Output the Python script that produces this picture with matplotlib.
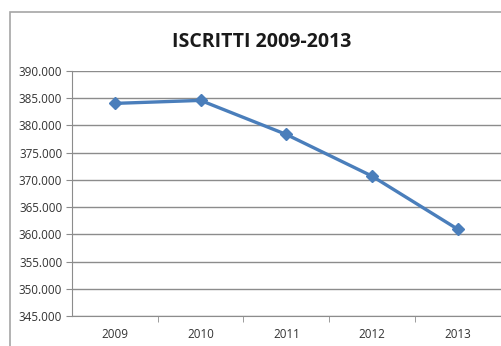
import matplotlib
matplotlib.use("Agg")
import matplotlib.pyplot as plt
from matplotlib.patches import Rectangle
from matplotlib.ticker import FuncFormatter

years = ["2009", "2010", "2011", "2012", "2013"]
iscritti = [384050, 384600, 378350, 370700, 360950]

fig = plt.figure(figsize=(5.01, 3.46), dpi=100)
fig.patch.set_facecolor("white")

# outer chart frame (right/bottom cut off like the original)
fig.patches.append(Rectangle((10 / 501, -0.05), 1.2, 1 - 12 / 346 + 0.05,
                             transform=fig.transFigure, fill=False,
                             edgecolor="#a6a6a6", linewidth=1.2))

ax = fig.add_axes([72 / 501, 1 - 316 / 346, 428.5 / 501, 245 / 346])
x = list(range(len(years)))
ax.plot(x, iscritti, color="#4a7ebb", linewidth=2.4, marker="D",
        markersize=6.5, zorder=3)

ax.set_xlim(-0.5, len(years) - 0.5)
ax.set_ylim(345000, 390000)
ax.set_yticks(range(345000, 390001, 5000))
ax.yaxis.set_major_formatter(FuncFormatter(lambda v, p: f"{int(v):,}".replace(",", ".")))
ax.set_xticks(x)
ax.set_xticklabels(years)
ax.set_xticks([i + 0.5 for i in range(len(years) - 1)], minor=True)
ax.tick_params(axis="x", which="major", length=0, pad=9)
ax.tick_params(axis="x", which="minor", length=4, color="#8c8c8c")
ax.tick_params(axis="y", length=4, color="#8c8c8c", pad=3)
for lab in ax.get_xticklabels() + ax.get_yticklabels():
    lab.set_fontsize(8.4)
    lab.set_color("#333333")
    lab.set_fontfamily("Open Sans")

ax.grid(axis="y", color="#8c8c8c", linewidth=1)
ax.set_axisbelow(True)
for side in ["top", "right"]:
    ax.spines[side].set_visible(False)
ax.spines["left"].set_color("#8c8c8c")
ax.spines["bottom"].set_color("#8c8c8c")

fig.text(262 / 501, 1 - 42 / 346, "ISCRITTI 2009-2013", ha="center", va="center",
         fontsize=14, fontweight="bold", color="#1a1a1a", family="Open Sans")

fig.savefig("out.png", dpi=100)
